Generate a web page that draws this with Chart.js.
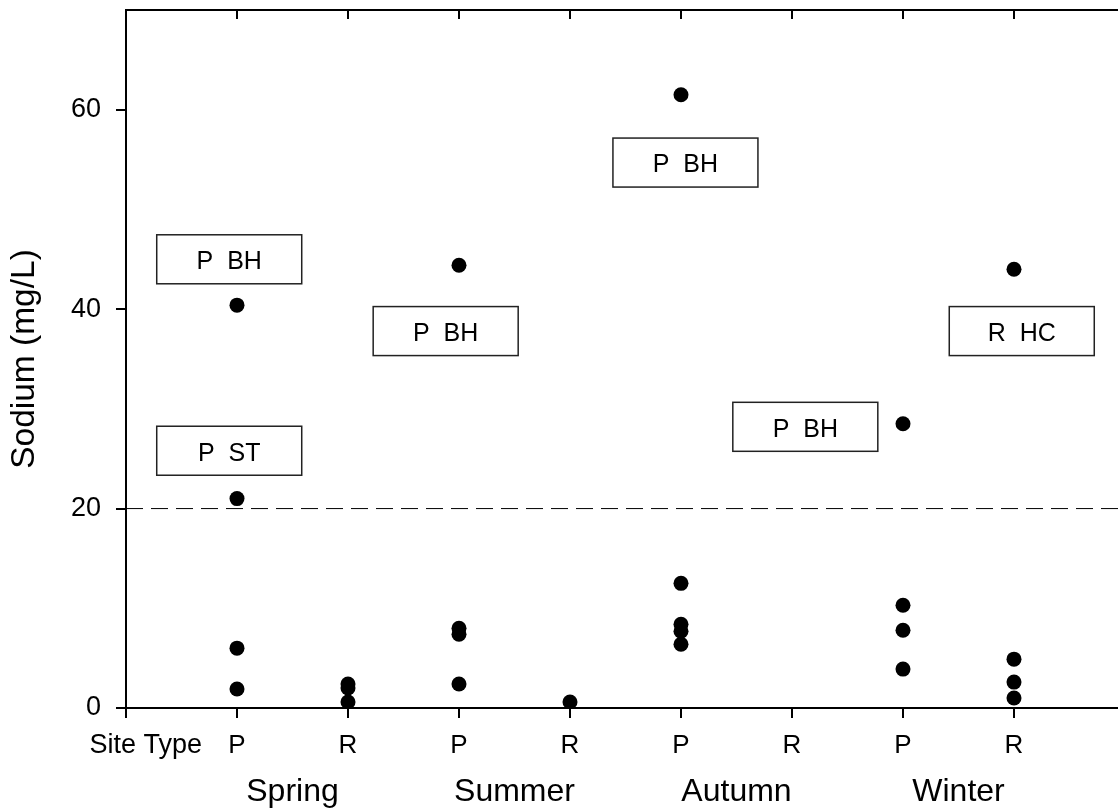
<!DOCTYPE html>
<html>
<head>
<meta charset="utf-8">
<script src="https://cdn.jsdelivr.net/npm/chart.js@4.4.1/dist/chart.umd.min.js"></script>
<style>
  html, body { margin: 0; padding: 0; background: #fff; overflow: hidden; }
  canvas { display: block; }
</style>
</head>
<body>
<canvas id="chart" width="1118" height="811"></canvas>
<script>
// Sodium concentrations (mg/L) by season and site type
const seasons = ['Spring', 'Summer', 'Autumn', 'Winter'];
const siteTypes = ['P', 'R'];

const springP = [40.4, 21.0, 6.0, 1.9];
const springR = [2.4, 2.0, 0.6];
const summerP = [44.4, 8.0, 7.4, 2.4];
const summerR = [0.6];
const autumnP = [61.5, 12.5, 8.4, 7.7, 6.4];
const autumnR = [];
const winterP = [28.5, 10.3, 7.8, 3.9];
const winterR = [44.0, 4.9, 2.6, 1.0];

// Guideline level drawn as a dashed line
const threshold = 20;
const yTicks = [0, 20, 40, 60];

// Callouts naming the site behind the high readings
const noteText = ['P  BH', 'P  ST', 'P  BH', 'P  BH', 'P  BH', 'R  HC'];
const noteX = [0.93, 0.93, 2.88, 5.04, 6.12, 8.07];
const noteY = [45.0, 25.8, 37.8, 54.7, 28.2, 37.8];

const FONT = '"Liberation Sans", Arial, Helvetica, sans-serif';
const X_MAX = 8.937;

const groups = [springP, springR, summerP, summerR, autumnP, autumnR, winterP, winterR];
const points = [];
groups.forEach((vals, i) => vals.forEach(v => points.push({ x: i + 1, y: v })));

const framePlugin = {
  id: 'frame',
  afterDraw(chart) {
    const { ctx, chartArea, scales } = chart;
    const x = scales.x, y = scales.y;
    ctx.save();
    // top border with inward ticks
    ctx.strokeStyle = '#000';
    ctx.lineWidth = 2;
    ctx.beginPath();
    ctx.moveTo(chartArea.left, chartArea.top);
    ctx.lineTo(chartArea.right, chartArea.top);
    for (let i = 1; i <= 8; i++) {
      const px = Math.round(x.getPixelForValue(i));
      ctx.moveTo(px, chartArea.top);
      ctx.lineTo(px, chartArea.top + 9);
    }
    ctx.stroke();

    // row caption for the site type tick labels
    ctx.fillStyle = '#000';
    ctx.font = '27px ' + FONT;
    ctx.textAlign = 'right';
    ctx.textBaseline = 'middle';
    ctx.fillText('Site Type', x.getPixelForValue(1) - 35, chartArea.bottom + 38);

    // callout boxes
    ctx.font = '25px ' + FONT;
    ctx.textAlign = 'center';
    noteText.forEach((t, i) => {
      const cx = x.getPixelForValue(noteX[i]);
      const cy = y.getPixelForValue(noteY[i]);
      const w = 145, h = 49;
      ctx.fillStyle = '#fff';
      ctx.fillRect(cx - w / 2, cy - h / 2, w, h);
      ctx.strokeStyle = '#222';
      ctx.lineWidth = 1.5;
      ctx.strokeRect(cx - w / 2, cy - h / 2, w, h);
      ctx.fillStyle = '#000';
      ctx.fillText(t, cx, cy + 3);
    });
    ctx.restore();
  }
};

new Chart(document.getElementById('chart'), {
  type: 'scatter',
  data: {
    datasets: [
      {
        type: 'line',
        data: [{ x: 0, y: threshold }, { x: 9, y: threshold }],
        borderColor: '#000',
        borderWidth: 1,
        borderDash: [17, 8],
        pointRadius: 0,
        fill: false
      },
      {
        data: points,
        backgroundColor: '#000',
        borderColor: '#000',
        borderWidth: 0,
        pointRadius: 7.5,
        pointHoverRadius: 7.5
      }
    ]
  },
  options: {
    responsive: false,
    animation: false,
    devicePixelRatio: 1,
    layout: { autoPadding: false, padding: { top: 10, left: 0, right: 0, bottom: 0 } },
    plugins: { legend: { display: false }, tooltip: { enabled: false } },
    scales: {
      y: {
        type: 'linear',
        min: 0,
        max: 70,
        afterBuildTicks: s => { s.ticks = yTicks.map(v => ({ value: v })); },
        afterFit: s => { s.width = 126; s.paddingTop = 0; s.paddingBottom = 0; },
        grid: { drawOnChartArea: false, tickLength: 10, lineWidth: 2, color: '#000' },
        border: { width: 2, color: '#000' },
        ticks: { color: '#000', font: { family: FONT, size: 27 }, padding: 15 },
        title: {
          display: true,
          text: 'Sodium (mg/L)',
          color: '#000',
          font: { family: FONT, size: 33.5 },
          padding: { top: 5, bottom: 0 }
        }
      },
      x: {
        type: 'linear',
        position: 'bottom',
        weight: 0,
        min: 0,
        max: X_MAX,
        afterBuildTicks: s => { s.ticks = [0, 1, 2, 3, 4, 5, 6, 7, 8].map(v => ({ value: v })); },
        afterFit: s => { s.height = 61; s.paddingLeft = 0; s.paddingRight = 0; },
        grid: { drawOnChartArea: false, tickLength: 10, lineWidth: 2, color: '#000' },
        border: { width: 2, color: '#000' },
        ticks: {
          color: '#000',
          font: { family: FONT, size: 26 },
          padding: 12,
          autoSkip: false,
          maxRotation: 0,
          callback: v => (v === 0 ? '' : siteTypes[(v - 1) % 2])
        }
      },
      x2: {
        type: 'linear',
        position: 'bottom',
        weight: 1,
        min: 0,
        max: X_MAX,
        afterBuildTicks: s => { s.ticks = seasons.map((_, i) => ({ value: 1.5 + 2 * i })); },
        afterFit: s => { s.height = 42; s.paddingLeft = 0; s.paddingRight = 0; },
        grid: { display: false, drawTicks: false },
        border: { display: false },
        ticks: {
          color: '#000',
          font: { family: FONT, size: 32 },
          padding: 4,
          autoSkip: false,
          maxRotation: 0,
          callback: v => seasons[Math.round((v - 1.5) / 2)]
        }
      }
    }
  },
  plugins: [framePlugin]
});
</script>
</body>
</html>
